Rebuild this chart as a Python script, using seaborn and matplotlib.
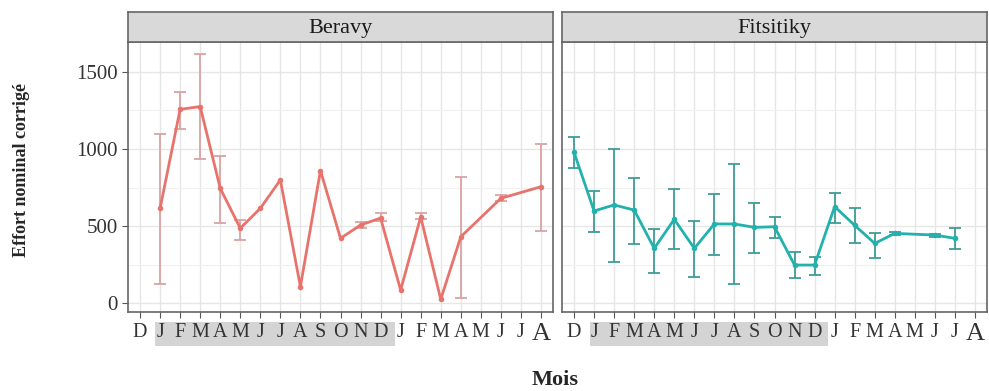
import numpy as np
import pandas as pd
import matplotlib
matplotlib.use("Agg")
import matplotlib.pyplot as plt
import seaborn as sns

months = ["D", "J", "F", "M", "A", "M", "J", "J", "A", "S", "O", "N",
          "D", "J", "F", "M", "A", "M", "J", "J", "A"]

# Beravy (index into months, NaN = no data)
beravy_mean = [np.nan, 615, 1256, 1274, 745, 486, 615, 799, 108, 860, 421, 507,
               552, 86, 560, 26, 431, np.nan, 680, np.nan, 755]
beravy_lo = [np.nan, 125, 1129, 932, 522, 410, np.nan, np.nan, np.nan, np.nan, np.nan, 490,
             535, np.nan, 545, np.nan, 36, np.nan, 665, np.nan, 470]
beravy_hi = [np.nan, 1094, 1366, 1615, 954, 539, np.nan, np.nan, np.nan, np.nan, np.nan, 525,
             583, np.nan, 583, np.nan, 816, np.nan, 700, np.nan, 1032]

fits_mean = [978, 598, 637, 604, 356, 544, 356, 514, 514, 492, 496, 248,
             248, 626, 505, 388, 453, np.nan, 442, 421, np.nan]
fits_lo = [874, 460, 266, 382, 194, 350, 172, 313, 125, 324, 421, 162,
           183, 522, 388, 296, 444, np.nan, 432, 350, np.nan]
fits_hi = [1075, 729, 999, 814, 479, 740, 533, 708, 902, 647, 561, 334,
           302, 716, 615, 457, 462, np.nan, 452, 486, np.nan]

sites = ["Beravy", "Fitsitiky"]
line_colors = {"Beravy": "#E8736C", "Fitsitiky": "#22B2AE"}
err_colors = {"Beravy": "#D9A3A3", "Fitsitiky": "#3E9C96"}

rows = []
for site, m, lo, hi in [("Beravy", beravy_mean, beravy_lo, beravy_hi),
                        ("Fitsitiky", fits_mean, fits_lo, fits_hi)]:
    for i in range(len(months)):
        rows.append(dict(site=site, pos=i, mois=months[i], effort=m[i], lo=lo[i], hi=hi[i]))
df = pd.DataFrame(rows)

sns.set_theme(style="white")
plt.rcParams["font.family"] = ["Liberation Serif", "DejaVu Serif"]

fig = plt.figure(figsize=(9.89, 3.91), dpi=100)
W, H = 989, 391
panels = {"Beravy": (128, 553), "Fitsitiky": (562, 987)}
top, bottom = 42, 312
strip_top = 12

for k, site in enumerate(sites):
    x0, x1 = panels[site]
    ax = fig.add_axes([x0 / W, 1 - bottom / H, (x1 - x0) / W, (bottom - top) / H])
    sub = df[df.site == site]
    valid = sub.dropna(subset=["effort"])
    eb = sub.dropna(subset=["lo"])
    ax.errorbar(eb.pos, eb.effort,
                yerr=[eb.effort - eb.lo, eb.hi - eb.effort],
                fmt="none", ecolor=err_colors[site], elinewidth=1.3, capsize=4,
                capthick=1.3, zorder=2)
    sns.lineplot(data=valid, x="pos", y="effort", ax=ax, color=line_colors[site],
                 linewidth=2, marker="o", markersize=4, markeredgewidth=0,
                 zorder=3, errorbar=None)
    ax.set_xlim(-0.6, 20.6)
    ax.set_ylim(-56, 1692)
    ax.set_yticks([0, 500, 1000, 1500])
    ax.set_yticks([250, 750, 1250], minor=True)
    ax.set_xticks(range(len(months)))
    ax.set_xticklabels(months, fontsize=14.5)
    ax.get_xticklabels()[-1].set_fontsize(19)
    ax.grid(True, which="major", color="#E6E6E6", linewidth=1.0)
    ax.grid(True, which="minor", axis="y", color="#F0F0F0", linewidth=0.8)
    ax.set_axisbelow(True)
    ax.tick_params(axis="x", length=4, width=0.8, color="#555555", pad=4, bottom=True)
    if k == 0:
        ax.tick_params(axis="y", length=4, width=0.8, color="#555555", labelsize=15,
                       left=True, labelcolor="#333333")
    else:
        ax.tick_params(axis="y", left=False, labelleft=False)
    ax.tick_params(axis="x", labelcolor="#333333")
    for s in ax.spines.values():
        s.set_color("#666666")
        s.set_linewidth(1.2)
    ax.set_xlabel("")
    ax.set_ylabel("")

    # strip
    sax = fig.add_axes([x0 / W, 1 - top / H, (x1 - x0) / W, (top - strip_top) / H])
    sax.set_facecolor("#D9D9D9")
    sax.set_xticks([])
    sax.set_yticks([])
    for s in sax.spines.values():
        s.set_color("#666666")
        s.set_linewidth(1.2)
    sax.text(0.5, 0.45, site, ha="center", va="center", fontsize=16, color="#1A1A1A",
             transform=sax.transAxes)

# shaded bands under first-year labels
for bx0, bx1 in [(155, 395), (590, 828)]:
    fig.patches.append(plt.Rectangle((bx0 / W, 1 - 346 / H), (bx1 - bx0) / W, 24 / H,
                                     transform=fig.transFigure, facecolor="#D4D4D4",
                                     edgecolor="none", zorder=-1))

fig.text(22 / W, 1 - 170 / H, "Effort nominal corrigé", rotation=90, ha="center",
         va="center", fontsize=13, fontweight="bold")
fig.text(555 / W, 1 - 380 / H, "Mois", ha="center", va="center", fontsize=16,
         fontweight="bold")

fig.savefig("out.png", dpi=100)
